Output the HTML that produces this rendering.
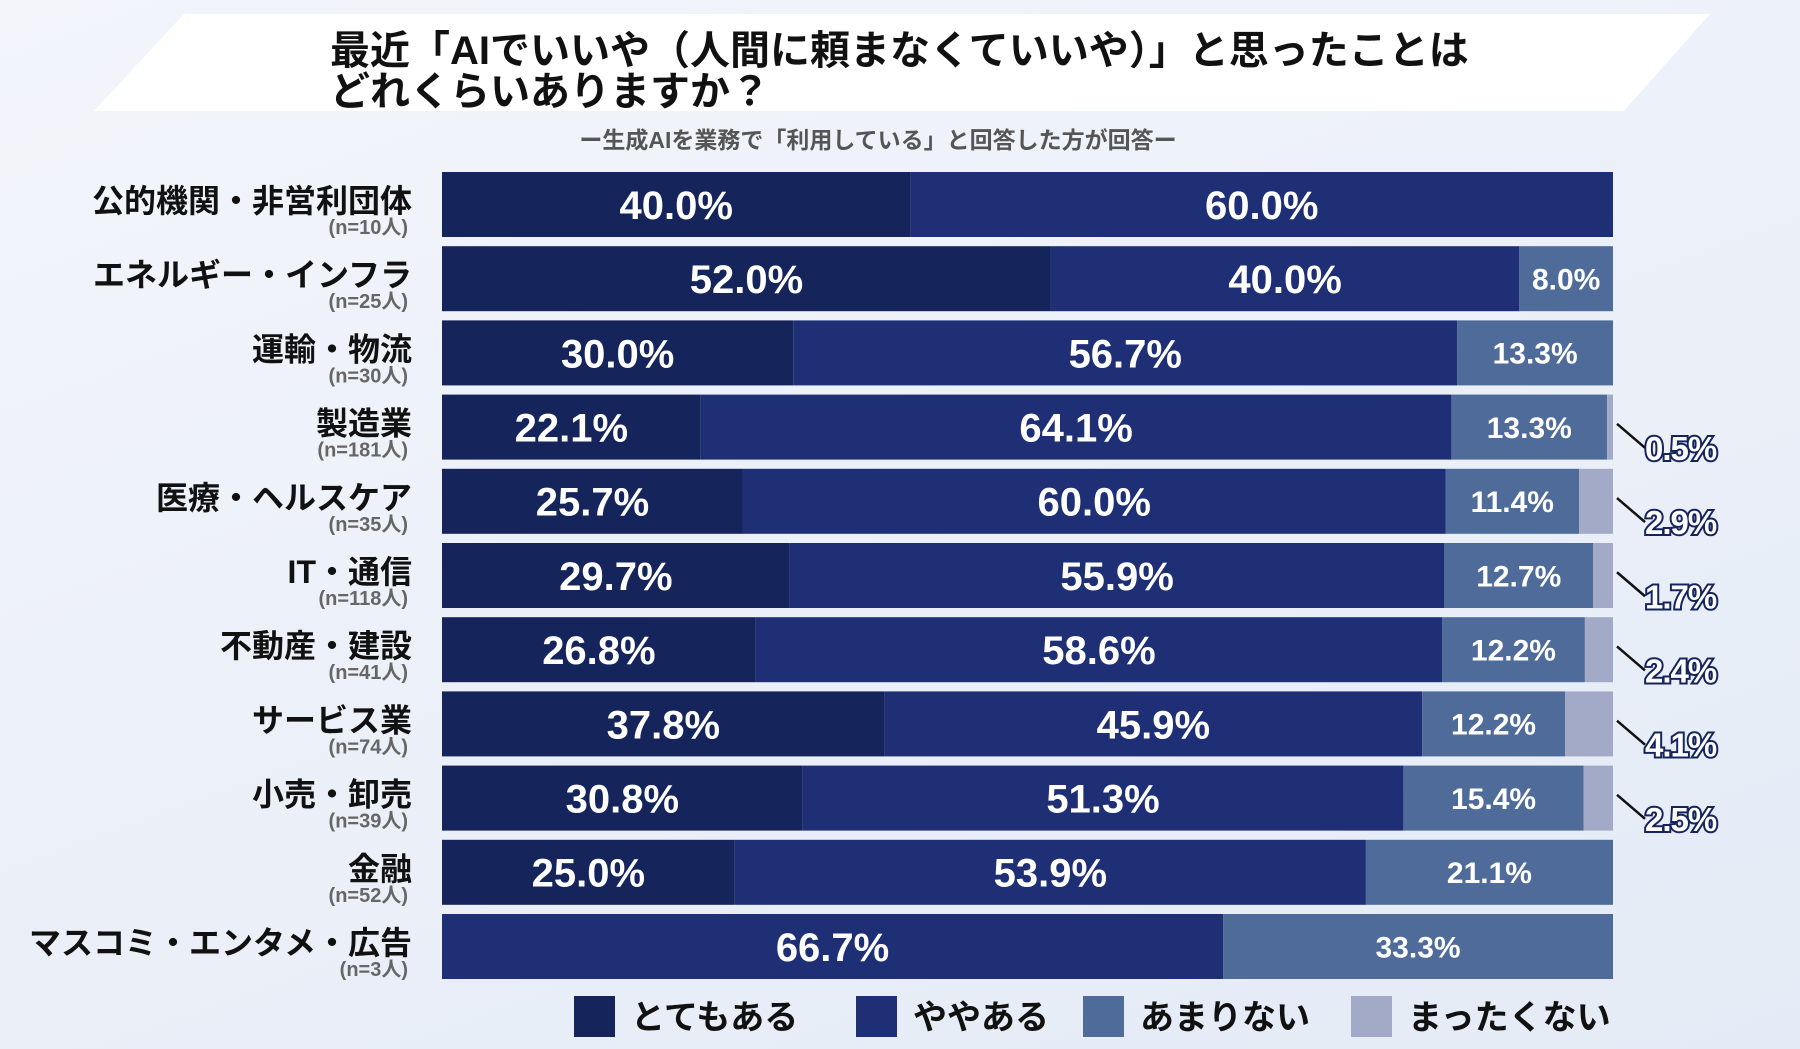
<!DOCTYPE html>
<html><head><meta charset="utf-8">
<style>
html,body{margin:0;padding:0;background:#edf1f9;}
#root{position:relative;width:1800px;height:1049px;overflow:hidden;background:linear-gradient(160deg,#f3f5fb 0%,#eaeff8 60%,#e4ebf6 100%);}
svg text{font-family:"Liberation Sans","Noto Sans CJK JP",sans-serif;}
</style></head>
<body>
<div id="root">
<svg id="chart" width="1800" height="1049" viewBox="0 0 1800 1049">
  <polygon points="184,14 1710,14 1624,111 94,111" fill="#ffffff"/>
  <text x="330" y="64" font-size="40" font-weight="bold" fill="#111">最近「AIでいいや（人間に頼まなくていいや）」と思ったことは</text>
  <text x="330" y="105" font-size="40" font-weight="bold" fill="#111">どれくらいありますか？</text>
  <text x="878" y="148" font-size="23" font-weight="bold" fill="#555" text-anchor="middle">ー生成AIを業務で「利用している」と回答した方が回答ー</text>
  <g id="bars"></g>
  <g id="legend"></g>
</svg>
</div>
<script>
const categories = ["公的機関・非営利団体","エネルギー・インフラ","運輸・物流","製造業","医療・ヘルスケア","IT・通信","不動産・建設","サービス業","小売・卸売","金融","マスコミ・エンタメ・広告"];
const sampleSizes = ["(n=10人)","(n=25人)","(n=30人)","(n=181人)","(n=35人)","(n=118人)","(n=41人)","(n=74人)","(n=39人)","(n=52人)","(n=3人)"];
const seriesNames = ["とてもある","ややある","あまりない","まったくない"];
const veryOften = [40.0,52.0,30.0,22.1,25.7,29.7,26.8,37.8,30.8,25.0,0];
const sometimes = [60.0,40.0,56.7,64.1,60.0,55.9,58.6,45.9,51.3,53.9,66.7];
const rarely = [0,8.0,13.3,13.3,11.4,12.7,12.2,12.2,15.4,21.1,33.3];
const never = [0,0,0,0.5,2.9,1.7,2.4,4.1,2.5,0,0];

const NS="http://www.w3.org/2000/svg";
const colors=["#15245a","#1f2f75","#4e6b9a","#a2aac8"];
const X0=442, W=1171, Y0=172, STEP=74.2, H=65;
const series=[veryOften,sometimes,rarely,never];
function xScale(v){return v/100*W;}
function yRow(i){return Y0+i*STEP;}
function mk(tag,attrs,parent){const e=document.createElementNS(NS,tag);for(const k in attrs)e.setAttribute(k,attrs[k]);parent.appendChild(e);return e;}
const gb=document.getElementById('bars');
categories.forEach((c,i)=>{
  const y=yRow(i);
  const lab=mk('text',{x:412,y:y+40,'font-size':32,'font-weight':'bold',fill:'#111','text-anchor':'end'},gb);
  lab.textContent=c;
  
  
  const nl=mk('text',{x:408,y:y+battery(i),'font-size':20,'font-weight':'bold',fill:'#666','text-anchor':'end'},gb);
  nl.textContent=sampleSizes[i];
  
  
  const total=series.reduce((s,a)=>s+a[i],0);
  let acc=0;
  series.forEach((arr,s)=>{
    const v=arr[i]; if(v<=0) return;
    const x=X0+xScale(acc/total*100), w=xScale(v/total*100);
    const r=mk('rect',{x:x,y:y,width:w,height:H,fill:colors[s]},gb);
    
    
    const txt=v.toFixed(1)+'%';
    if(s<3){
      const fs=s<2?40:30;
      const t=mk('text',{x:x+w/2,y:y+H/2+fs*0.36,'font-size':fs,'font-weight':'bold',fill:'#fff','text-anchor':'middle',style:'font-family:"Liberation Sans Narrow","Liberation Sans",sans-serif'},gb);
      t.textContent=txt;
      
      
    } else {
      const ex=x+w, ey=y+H*0.45;
      const ln=mk('line',{x1:ex+4,y1:ey,x2:ex+32,y2:ey+24,stroke:'#111','stroke-width':2.5},gb);
      
      
      const t=mk('text',{x:ex+32,y:ey+36,'font-size':33,'font-weight':'bold',fill:'#fff',stroke:'#16245e','stroke-width':4,'paint-order':'stroke','letter-spacing':'-1',style:'font-family:"Liberation Sans Narrow","Liberation Sans",sans-serif'},gb);
      t.textContent=txt;
      
      
    }
    acc+=v;
  });
});
function battery(i){return 62;}
const gl=document.getElementById('legend');
const lx=[574,856,1083,1351];
seriesNames.forEach((n,s)=>{
  const r=mk('rect',{x:lx[s],y:996,width:41,height:41,fill:colors[s]},gl);
  
  
  const t=mk('text',{x:lx[s]+57,y:1029,'font-size':34,'font-weight':'bold',fill:'#111'},gl);
  t.textContent=n;
  
  
});
</script>
</body></html>
